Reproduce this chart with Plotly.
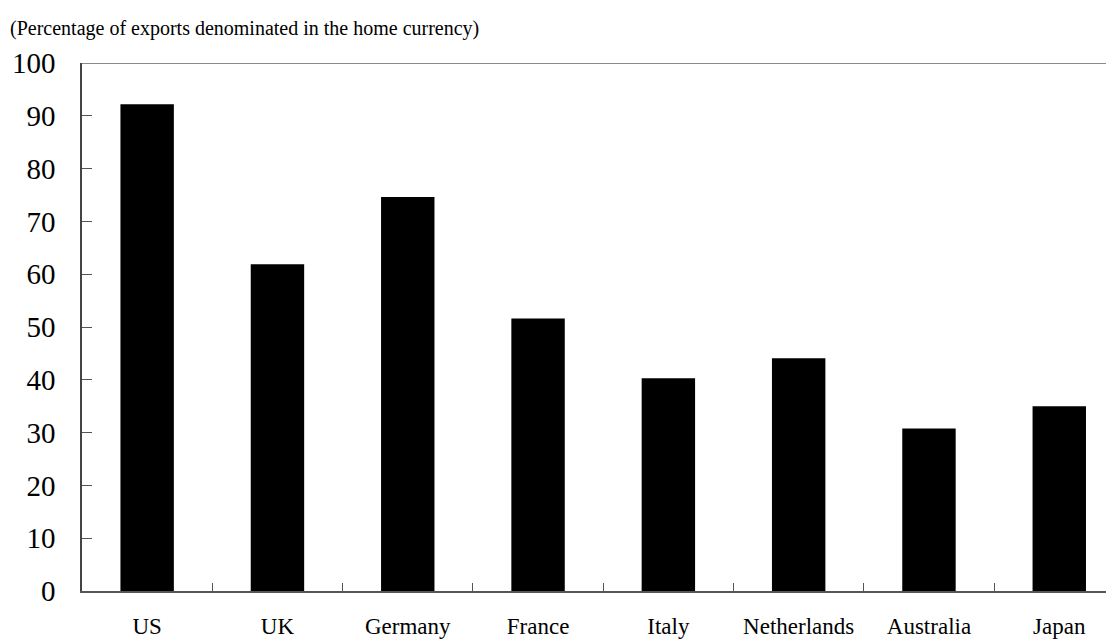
import plotly.graph_objects as go

countries = ["US", "UK", "Germany", "France", "Italy", "Netherlands", "Australia", "Japan"]
home_share = [92.2, 61.9, 74.6, 51.6, 40.3, 44.1, 30.8, 35.0]
y_ticks = [0, 10, 20, 30, 40, 50, 60, 70, 80, 90, 100]

font_family = "Liberation Serif, Times New Roman, serif"

fig = go.Figure()
fig.add_trace(go.Bar(x=countries, y=home_share, marker=dict(color="black", line=dict(width=0))))

# the plot runs past the right edge of the window in the original
fig.update_xaxes(
    range=[-0.5, 7.42], automargin=False,
    showline=True, linecolor="#555555", linewidth=1.5,
    ticks="inside", tickson="boundaries", ticklen=8, tickcolor="#555555",
    tickfont=dict(size=23, color="black", family=font_family),
    ticklabelstandoff=14,
    showgrid=False, zeroline=False,
)
fig.update_yaxes(
    range=[0, 100], tickvals=y_ticks, automargin=False,
    showline=True, linecolor="#444444", linewidth=1.5,
    ticks="inside", ticklen=10, tickcolor="#555555",
    tickfont=dict(size=29, color="black", family=font_family),
    ticklabelstandoff=19,
    showgrid=False, zeroline=False,
)
fig.add_shape(type="line", xref="paper", yref="y", x0=0, x1=1, y0=100, y1=100,
              line=dict(color="#8a8a8a", width=2))
fig.add_annotation(text="(Percentage of exports denominated in the home currency)",
                   xref="paper", yref="paper", x=-0.0717, y=1.04, xanchor="left", yanchor="bottom",
                   showarrow=False, font=dict(size=20, color="black", family=font_family))

fig.update_layout(
    width=1106, height=632,
    margin=dict(l=74, r=0, t=55, b=49),
    plot_bgcolor="white", paper_bgcolor="white",
    bargap=0.59, showlegend=False,
    font=dict(family=font_family),
)

fig.write_html("out.html")
